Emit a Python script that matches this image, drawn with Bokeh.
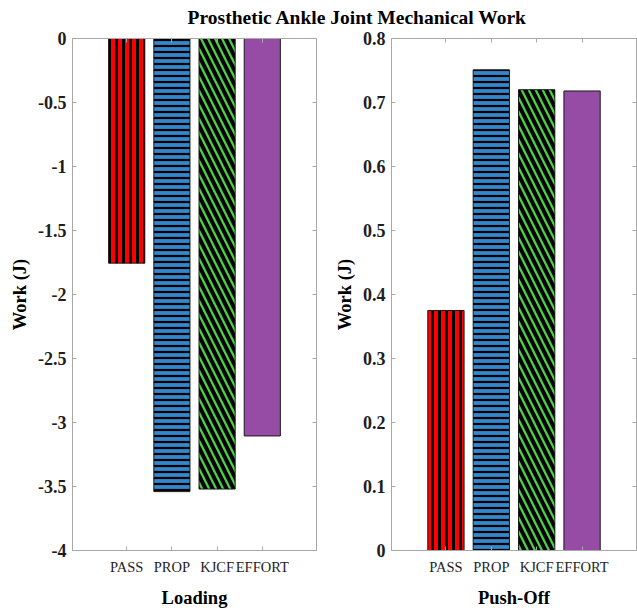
from bokeh.plotting import figure
from bokeh.models import ColumnDataSource, Range1d, FixedTicker, LinearAxis, CustomJSTickFormatter
from bokeh.layouts import column, row
from bokeh.embed import file_html
from bokeh.resources import INLINE
from bokeh.core.properties import value

# ---- data ----
categories = ["PASS", "PROP", "KJCF", "EFFORT"]
loading_work = [-1.755, -3.54, -3.52, -3.105]
pushoff_work = [0.375, 0.751, 0.720, 0.718]
loading_ticks = [0, -0.5, -1, -1.5, -2, -2.5, -3, -3.5, -4]
pushoff_ticks = [0, 0.1, 0.2, 0.3, 0.4, 0.5, 0.6, 0.7, 0.8]
title_text = "Prosthetic Ankle Joint Mechanical Work"
ylabel_text = "Work (J)"
xlabels = ["Loading", "Push-Off"]

# ---- styles ----
bar_colors = ["#FF0000", "#3487CD", "#4DD246", "#964BA5"]
bar_hatches = ["|", "-", "\\", " "]
hatch_scales = [7, 6, 14, 6]
hatch_weights = [3, 2.2, 4, 1]

FONT = "Liberation Serif"
GRAY = "#A8A8A8"
TXT = "#1E1E1E"


def make_axis_extra(ticks):
    ax = LinearAxis(ticker=FixedTicker(ticks=ticks, minor_ticks=[]))
    ax.major_label_text_font_size = "1px"
    ax.major_label_text_color = None
    ax.major_label_standoff = 0
    ax.major_tick_in = 4
    ax.major_tick_out = 0
    ax.minor_tick_in = 0
    ax.minor_tick_out = 0
    ax.axis_line_color = GRAY
    ax.major_tick_line_color = GRAY
    return ax


def panel(values, ticks, yr, xlabel, width, mbl, mbr):
    xs = list(range(1, len(categories) + 1))
    p = figure(width=width, height=580, x_range=Range1d(-0.2, 5.2), y_range=Range1d(*yr),
               output_backend="svg", toolbar_location=None,
               min_border_left=mbl, min_border_right=mbr, min_border_top=8, min_border_bottom=56)
    for i in range(len(categories)):
        src = ColumnDataSource(dict(x=[xs[i]], top=[values[i]]))
        p.vbar(x="x", top="top", bottom=0, width=0.8, source=src, fill_color=bar_colors[i],
               line_color="#1A1A1A", line_width=1, hatch_pattern=bar_hatches[i],
               hatch_color="black", hatch_scale=hatch_scales[i], hatch_weight=hatch_weights[i])
    p.xgrid.visible = False
    p.ygrid.visible = False
    p.outline_line_color = GRAY
    p.background_fill_color = "white"
    p.border_fill_color = "white"

    xa = p.below[0]
    xa.ticker = FixedTicker(ticks=xs, minor_ticks=[])
    xa.major_label_overrides = {i: c for i, c in zip(xs, categories)}
    xa.axis_label = xlabel
    ya = p.left[0]
    ya.ticker = FixedTicker(ticks=ticks, minor_ticks=[])
    ya.formatter = CustomJSTickFormatter(code="return String(Math.round(tick*10)/10);")
    ya.axis_label = ylabel_text
    for ax in (xa, ya):
        ax.axis_line_color = GRAY
        ax.major_tick_line_color = GRAY
        ax.major_tick_in = 4
        ax.major_tick_out = 0
        ax.minor_tick_in = 0
        ax.minor_tick_out = 0
        ax.major_label_text_font = FONT
        ax.major_label_text_color = TXT
        ax.axis_label_text_font = FONT
        ax.axis_label_text_font_style = "bold"
        ax.axis_label_text_font_size = "18.5px"
        ax.axis_label_text_color = "black"
    xa.major_label_text_font_size = "14.5px"
    xa.major_label_standoff = 8
    xa.axis_label_standoff = 10
    ya.major_label_text_font_size = "18px"
    ya.major_label_standoff = 6
    ya.axis_label_standoff = 5
    ya.major_label_text_font_style = "bold"

    p.add_layout(make_axis_extra(ticks), "right")
    p.add_layout(make_axis_extra(xs), "above")
    return p


p1 = panel(loading_work, loading_ticks, (-4, 0), xlabels[0], 330, 72, 14)
p2 = panel(pushoff_work, pushoff_ticks, (0, 0.8), xlabels[1], 307, 61, 1)

header = figure(width=637, height=30, x_range=Range1d(0, 637), y_range=Range1d(30, 0),
                x_axis_type=None, y_axis_type=None, output_backend="svg", toolbar_location=None,
                min_border_left=0, min_border_right=0, min_border_top=0, min_border_bottom=0)
header.outline_line_color = None
header.grid.visible = False
header.text(x=[357], y=[17], text=[title_text], text_font=value(FONT), text_font_style="bold",
            text_font_size="19.5px", text_align="center", text_baseline="middle",
            text_color="black")

layout = column(header, row(p1, p2, spacing=0), spacing=0)
open("out.html", "w").write(file_html(layout, INLINE))
